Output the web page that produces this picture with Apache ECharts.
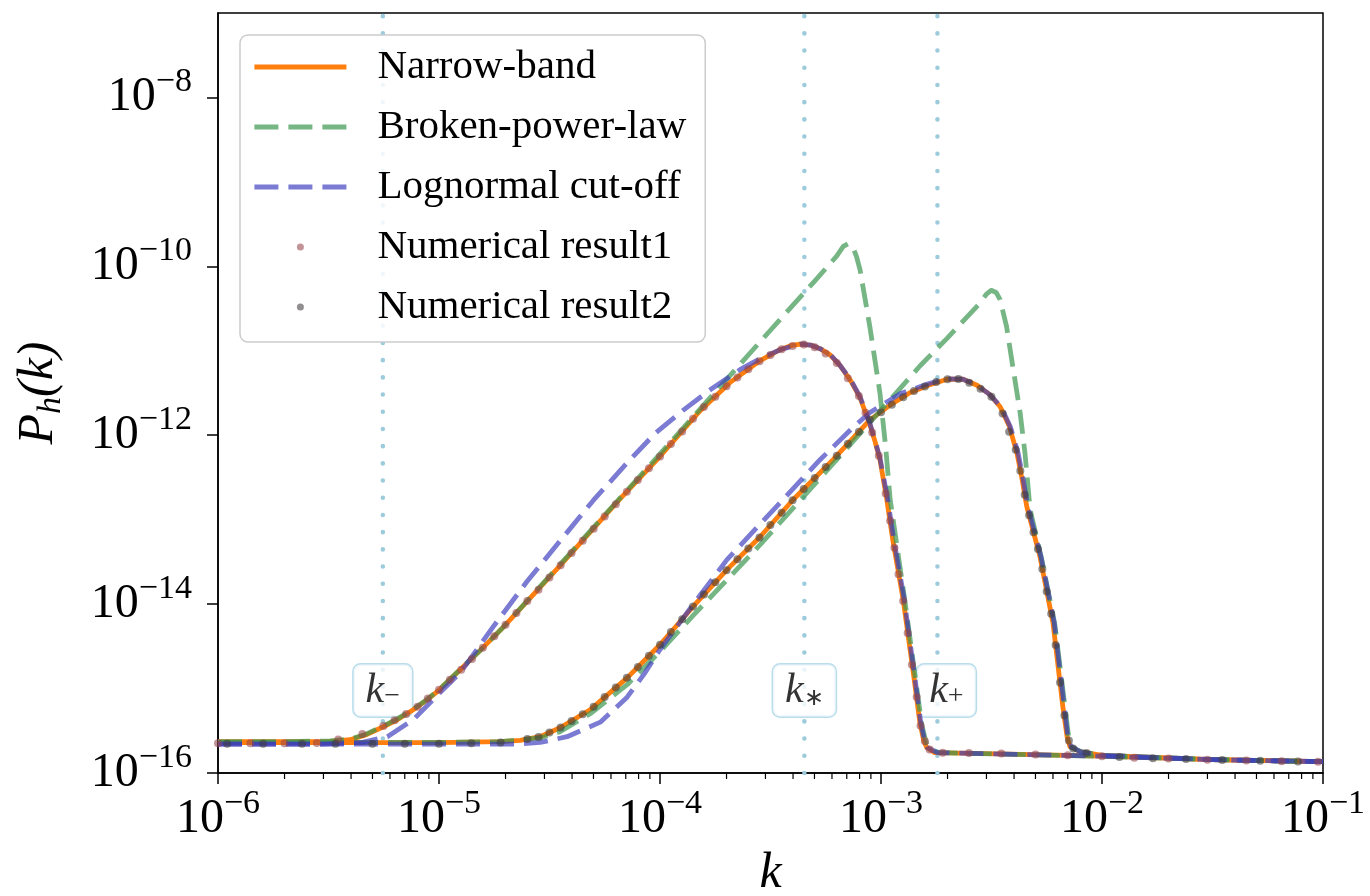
<!DOCTYPE html>
<html><head><meta charset="utf-8">
<script src="https://cdn.jsdelivr.net/npm/echarts@6/dist/echarts.min.js"></script>
<style>html,body{margin:0;padding:0;background:#fff}#chart{width:1370px;height:896px}</style>
</head><body><div id="chart"></div>
<script>
// ---- data (k, P_h(k)) ----
const narrowA = [[1e-6,2.35e-16],[2e-6,2.35e-16],[3.22e-6,2.37e-16],[3.96e-6,2.48e-16],[4.7e-6,2.85e-16],[5.6e-6,3.53e-16],[6.5e-6,4.3e-16],[7.64e-6,5.6e-16],[8.8e-6,7.3e-16],[1.01e-5,9.8e-16],[1.25e-5,1.68e-15],[1.54e-5,2.85e-15],[1.95e-5,5.3e-15],[3.53e-5,2.85e-14],[6.61e-5,1.77e-13],[9.7e-5,5.13e-13],[1.52e-4,1.95e-12],[2.07e-4,4.19e-12],[2.84e-4,7.64e-12],[3.49e-4,1.03e-11],[3.9e-4,1.15e-11],[4.31e-4,1.2e-11],[4.8e-4,1.17e-11],[5.3e-4,1.06e-11],[5.9e-4,8.9e-12],[6.53e-4,6.65e-12],[7.3e-4,4.4e-12],[8.04e-4,2.78e-12],[8.91e-4,1.33e-12],[9.4e-4,8.4e-13],[9.89e-4,5.13e-13],[1.06e-3,1.8e-13],[1.13e-3,5.79e-14],[1.26e-3,1.13e-14],[1.40e-3,1.54e-15],[1.50e-3,3.94e-16],[1.56e-3,2.45e-16],[1.61e-3,2.0e-16],[1.75e-3,1.74e-16],[3e-3,1.7e-16],[1e-2,1.58e-16],[3.16e-2,1.44e-16],[1e-1,1.36e-16]];
const narrowB = [[1e-6,2.29e-16],[1e-5,2.29e-16],[1.89e-5,2.35e-16],[2.33e-5,2.44e-16],[2.87e-5,2.69e-16],[3.53e-5,3.44e-16],[4.83e-5,5.61e-16],[7.1e-5,1.34e-15],[1e-4,3.3e-15],[1.41e-4,9.31e-15],[2.01e-4,2.56e-14],[2.84e-4,6.28e-14],[4.0e-4,1.72e-13],[6.07e-4,5.13e-13],[8.91e-4,1.52e-12],[1.12e-3,2.35e-12],[1.35e-3,3.18e-12],[1.65e-3,3.94e-12],[1.99e-3,4.6e-12],[2.35e-3,4.6e-12],[2.72e-3,3.9e-12],[3.1e-3,3.05e-12],[3.46e-3,2.17e-12],[3.8e-3,1.3e-12],[4.12e-3,6.19e-13],[4.35e-3,3.0e-13],[4.57e-3,1.42e-13],[5.24e-3,3.64e-14],[6.0e-3,6.03e-15],[6.65e-3,6.1e-16],[6.95e-3,2.7e-16],[7.16e-3,2.05e-16],[7.94e-3,1.79e-16],[1e-2,1.62e-16],[3.16e-2,1.44e-16],[1e-1,1.36e-16]];
const brokenA = [[1e-6,2.35e-16],[2e-6,2.35e-16],[3.22e-6,2.4e-16],[3.96e-6,2.52e-16],[4.7e-6,2.9e-16],[5.6e-6,3.6e-16],[6.5e-6,4.4e-16],[7.64e-6,5.7e-16],[8.8e-6,7.4e-16],[1.01e-5,9.9e-16],[1.25e-5,1.7e-15],[1.54e-5,2.85e-15],[1.95e-5,5.3e-15],[1e-4,6.0e-13],[3.16e-4,1.75e-11],[5.0e-4,6.65e-11],[6.3e-4,1.32e-10],[6.75e-4,1.72e-10],[7.1e-4,1.85e-10],[7.45e-4,1.7e-10],[7.75e-4,1.3e-10],[8.04e-4,9.1e-11],[8.91e-4,1.9e-11],[9.89e-4,3.16e-12],[1.05e-3,7.2e-13],[1.10e-3,1.74e-13],[1.17e-3,5.75e-14],[1.29e-3,9.8e-15],[1.43e-3,1.35e-15],[1.53e-3,3.7e-16],[1.6e-3,2.3e-16],[1.66e-3,1.9e-16],[1.85e-3,1.74e-16],[1e-2,1.58e-16],[3.16e-2,1.44e-16],[1e-1,1.36e-16]];
const brokenB = [[1e-6,2.3e-16],[1e-5,2.3e-16],[1.89e-5,2.35e-16],[2.87e-5,2.6e-16],[3.53e-5,3.08e-16],[4.83e-5,5.03e-16],[7.1e-5,1.11e-15],[1e-4,2.75e-15],[1.41e-4,7.3e-15],[2.84e-4,5.05e-14],[6.07e-4,4.6e-13],[1.066e-3,2.4e-12],[1.5e-3,6.6e-12],[2.0e-3,1.42e-11],[2.81e-3,3.69e-11],[3.0e-3,4.7e-11],[3.15e-3,5.2e-11],[3.32e-3,4.9e-11],[3.46e-3,4.03e-11],[3.7e-3,1.93e-11],[3.95e-3,6.47e-12],[4.26e-3,1.85e-12],[4.48e-3,6.2e-13],[4.73e-3,1.31e-13],[5.34e-3,3.36e-14],[6.12e-3,5.7e-15],[6.8e-3,6.0e-16],[7.05e-3,2.8e-16],[7.3e-3,2.0e-16],[8.1e-3,1.78e-16],[1e-2,1.62e-16],[3.16e-2,1.44e-16],[1e-1,1.36e-16]];
const lognormalA = [[1e-6,2.2e-16],[3e-6,2.2e-16],[4.5e-6,2.3e-16],[5.84e-6,2.69e-16],[7.64e-6,4.27e-16],[1.0e-5,8.7e-16],[1.25e-5,1.55e-15],[1.76e-5,5.4e-15],[2.5e-5,1.85e-14],[3.53e-5,5.6e-14],[5.0e-5,1.7e-13],[7.1e-5,4.7e-13],[9.5e-5,1.05e-12],[1.28e-4,2.0e-12],[1.7e-4,3.5e-12],[2.3e-4,5.97e-12],[2.9e-4,8.3e-12],[3.5e-4,1.03e-11],[4.31e-4,1.2e-11],[4.8e-4,1.17e-11],[5.3e-4,1.06e-11],[5.9e-4,9.0e-12],[6.53e-4,6.7e-12],[7.3e-4,4.5e-12],[8.04e-4,2.85e-12],[8.91e-4,1.38e-12],[9.89e-4,5.4e-13],[1.07e-3,1.8e-13],[1.14e-3,6.0e-14],[1.27e-3,1.2e-14],[1.41e-3,1.6e-15],[1.51e-3,4.1e-16],[1.57e-3,2.5e-16],[1.62e-3,2.0e-16],[1.8e-3,1.74e-16],[1e-2,1.58e-16],[3.16e-2,1.44e-16],[1e-1,1.36e-16]];
const lognormalB = [[1e-6,2.2e-16],[1e-5,2.2e-16],[2.3e-5,2.2e-16],[2.87e-5,2.3e-16],[3.8e-5,2.69e-16],[5.37e-5,4.0e-16],[7.1e-5,7.9e-16],[8.5e-5,1.5e-15],[1e-4,2.9e-15],[1.41e-4,9.84e-15],[2.01e-4,3.36e-14],[3.39e-4,1.46e-13],[5.3e-4,5.13e-13],[7.46e-4,1.23e-12],[8.91e-4,1.86e-12],[1.22e-3,3.1e-12],[1.65e-3,4.1e-12],[1.99e-3,4.65e-12],[2.35e-3,4.6e-12],[2.72e-3,3.9e-12],[3.1e-3,3.05e-12],[3.5e-3,2.15e-12],[3.85e-3,1.25e-12],[4.17e-3,6.2e-13],[4.4e-3,3.0e-13],[4.62e-3,1.42e-13],[5.3e-3,3.6e-14],[6.08e-3,6.0e-15],[6.75e-3,6.1e-16],[7.0e-3,2.7e-16],[7.25e-3,2.05e-16],[8.0e-3,1.78e-16],[1e-2,1.62e-16],[3.16e-2,1.44e-16],[1e-1,1.36e-16]];
const result1 = [[1.0e-6,2.25e-16],[1.4e-6,2.25e-16],[2.0e-6,2.25e-16],[2.8e-6,2.26e-16],[3.5e-6,2.5e-16],[4.5e-6,2.9e-16],[5.6e-6,3.6e-16],[6.3e-6,4.2e-16],[7.1e-6,5.0e-16],[8.0e-6,6.1e-16],[8.9e-6,7.6e-16],[1.0e-5,9.7e-16],[1.12e-5,1.27e-15],[1.26e-5,1.67e-15],[1.41e-5,2.24e-15],[1.58e-5,3.04e-15],[1.78e-5,4.15e-15],[2.0e-5,5.7e-15],[2.24e-5,7.85e-15],[2.51e-5,1.09e-14],[2.82e-5,1.48e-14],[3.16e-5,2.07e-14],[3.55e-5,2.88e-14],[3.98e-5,4.03e-14],[4.47e-5,5.61e-14],[5.01e-5,7.83e-14],[5.62e-5,1.09e-13],[6.31e-5,1.52e-13],[7.08e-5,2.14e-13],[7.94e-5,2.95e-13],[8.91e-5,4.06e-13],[1.0e-4,5.61e-13],[1.12e-4,7.89e-13],[1.26e-4,1.11e-12],[1.41e-4,1.57e-12],[1.58e-4,2.16e-12],[1.78e-4,2.86e-12],[2.0e-4,3.8e-12],[2.24e-4,4.84e-12],[2.51e-4,6.04e-12],[2.82e-4,7.53e-12],[3.16e-4,8.93e-12],[3.55e-4,1.04e-11],[3.98e-4,1.14e-11],[4.47e-4,1.19e-11],[5.01e-4,1.1e-11],[5.62e-4,9.27e-12],[6.31e-4,7.18e-12],[7.08e-4,4.74e-12],[7.94e-4,2.92e-12],[8.51e-4,1.85e-12],[9.12e-4,1.08e-12],[9.77e-4,5.7e-13],[1.05e-3,2.04e-13],[1.10e-3,9.73e-14],[1.15e-3,4.66e-14],[1.20e-3,2.25e-14],[1.26e-3,1.09e-14],[1.32e-3,4.55e-15],[1.38e-3,1.91e-15],[1.45e-3,7.96e-16],[1.51e-3,3.62e-16],[1.58e-3,2.37e-16],[1.66e-3,1.9e-16],[1.9e-3,1.74e-16],[2.5e-3,1.72e-16],[3.5e-3,1.7e-16],[5.0e-3,1.66e-16],[7.0e-3,1.62e-16],[1.0e-2,1.58e-16],[1.4e-2,1.52e-16],[2.0e-2,1.48e-16],[3.0e-2,1.44e-16],[4.5e-2,1.41e-16],[6.5e-2,1.38e-16],[9.5e-2,1.36e-16]];
const result2 = [[1.1e-6,2.22e-16],[1.6e-6,2.22e-16],[2.4e-6,2.22e-16],[3.4e-6,2.22e-16],[5.0e-6,2.22e-16],[7.0e-6,2.22e-16],[1.0e-5,2.22e-16],[1.4e-5,2.25e-16],[1.9e-5,2.3e-16],[2.51e-5,2.53e-16],[2.82e-5,2.67e-16],[3.16e-5,3.02e-16],[3.55e-5,3.46e-16],[3.98e-5,4.14e-16],[4.47e-5,4.96e-16],[5.01e-5,6.1e-16],[5.62e-5,7.92e-16],[6.31e-5,1.03e-15],[7.08e-5,1.34e-15],[7.94e-5,1.8e-15],[8.91e-5,2.44e-15],[1.0e-4,3.3e-15],[1.12e-4,4.68e-15],[1.26e-4,6.62e-15],[1.41e-4,9.38e-15],[1.58e-4,1.3e-14],[1.78e-4,1.81e-14],[2.0e-4,2.51e-14],[2.24e-4,3.39e-14],[2.51e-4,4.57e-14],[2.82e-4,6.17e-14],[3.16e-4,8.63e-14],[3.55e-4,1.21e-13],[3.98e-4,1.7e-13],[4.47e-4,2.3e-13],[5.01e-4,3.11e-13],[5.62e-4,4.21e-13],[6.31e-4,5.73e-13],[7.08e-4,7.94e-13],[7.94e-4,1.1e-12],[8.91e-4,1.52e-12],[1.0e-3,1.87e-12],[1.12e-3,2.29e-12],[1.26e-3,2.81e-12],[1.41e-3,3.33e-12],[1.58e-3,3.77e-12],[1.78e-3,4.26e-12],[2.0e-3,4.6e-12],[2.24e-3,4.62e-12],[2.51e-3,4.17e-12],[2.82e-3,3.55e-12],[3.16e-3,2.86e-12],[3.55e-3,1.81e-12],[3.80e-3,1.1e-12],[4.07e-3,6.73e-13],[4.27e-3,3.79e-13],[4.47e-3,1.97e-13],[4.68e-3,1.13e-13],[4.90e-3,7.11e-14],[5.13e-3,4.48e-14],[5.37e-3,2.6e-14],[5.62e-3,1.41e-14],[5.89e-3,7.69e-15],[6.17e-3,3.27e-15],[6.46e-3,1.18e-15],[6.76e-3,4.8e-16],[7.08e-3,2.43e-16],[7.41e-3,1.95e-16],[8.5e-3,1.72e-16],[1.2e-2,1.55e-16],[1.7e-2,1.5e-16],[2.4e-2,1.46e-16],[3.5e-2,1.43e-16],[5.2e-2,1.4e-16],[7.7e-2,1.37e-16]];

const kMarks = [5.57e-6, 4.5e-4, 1.8e-3];
const kMarkSubs = ['\u2212', '\u2217', '+'];
const kMarkLabelP = 1.0e-15;
const xRange = [1e-6, 1e-1];
const yRange = [1e-16, 1e-7];
const xMinorTicks = [2e-6,3e-6,4e-6,5e-6,6e-6,7e-6,8e-6,9e-6,2e-5,3e-5,4e-5,5e-5,6e-5,7e-5,8e-5,9e-5,2e-4,3e-4,4e-4,5e-4,6e-4,7e-4,8e-4,9e-4,2e-3,3e-3,4e-3,5e-3,6e-3,7e-3,8e-3,9e-3,2e-2,3e-2,4e-2,5e-2,6e-2,7e-2,8e-2,9e-2];
const seriesNames = ['Narrow-band','Broken-power-law','Lognormal cut-off','Numerical result1','Numerical result2'];

// ---- styling ----
const SERIF = '"Liberation Serif","Times New Roman",serif';
const C_ORANGE = '#ff7f0e';
const C_GREEN = 'rgba(60,150,80,0.7)';
const C_BLUE = 'rgba(60,60,190,0.68)';
const C_R1 = 'rgba(150,70,75,0.72)';
const C_R2 = 'rgba(65,60,60,0.72)';
const C_VLINE = '#9ccbdc';

function powLabel(v) {
  const e = Math.round(Math.log10(v));
  return '{b|10}{s|' + (e < 0 ? '\u2212' : '') + Math.abs(e) + '}';
}
const tickRich = {
  b: {fontFamily: SERIF, fontSize: 48, lineHeight: 64, color: '#000', verticalAlign: 'middle'},
  s: {fontFamily: SERIF, fontSize: 34, lineHeight: 36, color: '#000', verticalAlign: 'top'}
};

function lineSeries(name, data, color, dashed) {
  return {
    name: name, type: 'line', data: data, symbol: 'none', smooth: false,
    lineStyle: {color: color, width: 4.8, type: dashed ? [24, 10] : 'solid', join: 'round'},
    itemStyle: {color: color}, z: 3, silent: true
  };
}
function dotSeries(name, data, color) {
  return {name: name, type: 'scatter', data: data, symbol: 'circle', symbolSize: 8,
    itemStyle: {color: color}, z: 4, silent: true};
}

const series = [
  // vertical dotted marker lines
  ...kMarks.map(k => ({
    type: 'line', data: [[k, yRange[0]], [k, yRange[1]]], symbol: 'none', z: 1, silent: true,
    lineStyle: {color: C_VLINE, width: 4.5, type: [0.1, 17.1], cap: 'round'}
  })),
  // marker labels
  ...kMarks.map((k, i) => ({
    type: 'scatter', data: [[k, kMarkLabelP]], symbolSize: 1, itemStyle: {color: 'rgba(0,0,0,0)'}, z: 1, silent: true,
    label: {
      show: true, position: 'inside', offset: i === 2 ? [9, 2] : [0, 2],
      formatter: '{k|k}{s|' + kMarkSubs[i] + '}',
      color: '#000', textBorderWidth: 0,
      backgroundColor: '#fff', borderColor: '#a9d5e6', borderWidth: 1.5, borderRadius: 7,
      padding: [6, 12, 6, 12],
      rich: {
        k: {fontFamily: SERIF, fontStyle: 'italic', fontSize: 42, lineHeight: 40, color: '#000', textBorderWidth: 0},
        s: {fontFamily: SERIF, fontSize: i === 1 ? 24 : 28, lineHeight: 22, color: '#000', textBorderWidth: 0, verticalAlign: 'bottom'}
      }
    }
  })),
  lineSeries('Narrow-band', narrowA, C_ORANGE, false),
  lineSeries('Narrow-band', narrowB, C_ORANGE, false),
  lineSeries('Broken-power-law', brokenA, C_GREEN, true),
  lineSeries('Broken-power-law', brokenB, C_GREEN, true),
  lineSeries('Lognormal cut-off', lognormalA, C_BLUE, true),
  lineSeries('Lognormal cut-off', lognormalB, C_BLUE, true),
  dotSeries('Numerical result1', result1, C_R1),
  dotSeries('Numerical result2', result2, C_R2),
  // minor ticks on the k axis
  {
    type: 'custom', silent: true, clip: false, z: 6,
    data: xMinorTicks.map(v => [v, yRange[0]]),
    renderItem: function (params, api) {
      const p = api.coord([api.value(0), api.value(1)]);
      return {type: 'line', shape: {x1: p[0], y1: p[1], x2: p[0], y2: p[1] + 6}, style: {stroke: '#000', lineWidth: 1.2}};
    }
  }
];

const option = {
  animation: false,
  backgroundColor: '#fff',
  grid: {left: 218, right: 47, top: 13, bottom: 123, containLabel: false, outerBoundsMode: 'none',
    show: true, borderColor: '#000', borderWidth: 1.5, backgroundColor: 'transparent'},
  xAxis: {
    type: 'log', logBase: 10, min: xRange[0], max: xRange[1], interval: 1, splitNumber: 5,
    name: 'k', nameLocation: 'middle', nameGap: 76,
    nameTextStyle: {fontFamily: SERIF, fontStyle: 'italic', fontSize: 50, color: '#000'},
    axisLine: {lineStyle: {color: '#000', width: 1.5}},
    axisTick: {inside: false, length: 11, lineStyle: {color: '#000', width: 1.5}},
    splitLine: {show: false}, minorTick: {show: false},
    axisLabel: {formatter: powLabel, rich: tickRich, margin: 14, color: '#000'}
  },
  yAxis: {
    type: 'log', logBase: 10, min: yRange[0], max: yRange[1], interval: 2, splitNumber: 5,
    name: '{p|P}{h|h}{p|(k)}', nameLocation: 'middle', nameRotate: 90, nameGap: 150,
    nameTextStyle: {rich: {
      p: {fontFamily: SERIF, fontStyle: 'italic', fontSize: 50, lineHeight: 58, color: '#000'},
      h: {fontFamily: SERIF, fontStyle: 'italic', fontSize: 34, lineHeight: 36, color: '#000', verticalAlign: 'bottom'}
    }},
    axisLine: {lineStyle: {color: '#000', width: 1.5}},
    axisTick: {inside: false, length: 11, lineStyle: {color: '#000', width: 1.5}},
    splitLine: {show: false},
    axisLabel: {formatter: powLabel, rich: tickRich, margin: 26, color: '#000', showMaxLabel: false}
  },
  legend: {
    orient: 'vertical', left: 240, top: 35,
    padding: [10, 19, 13, 12], itemWidth: 92, itemHeight: 7, itemGap: 16,
    backgroundColor: 'rgba(255,255,255,0.85)', borderColor: '#cccccc', borderWidth: 1.5, borderRadius: 8,
    textStyle: {fontFamily: SERIF, fontSize: 41, color: '#000', lineHeight: 44, padding: [0, 0, 0, 26]},
    lineStyle: {width: 4.8},
    selectedMode: false,
    data: seriesNames.map((n, i) => i < 3 ? {name: n, itemStyle: {opacity: 0}} : {name: n})
  },
  series: series
};

const chart = echarts.init(document.getElementById('chart'), null, {renderer: 'canvas'});
chart.setOption(option);
</script>
</body></html>
